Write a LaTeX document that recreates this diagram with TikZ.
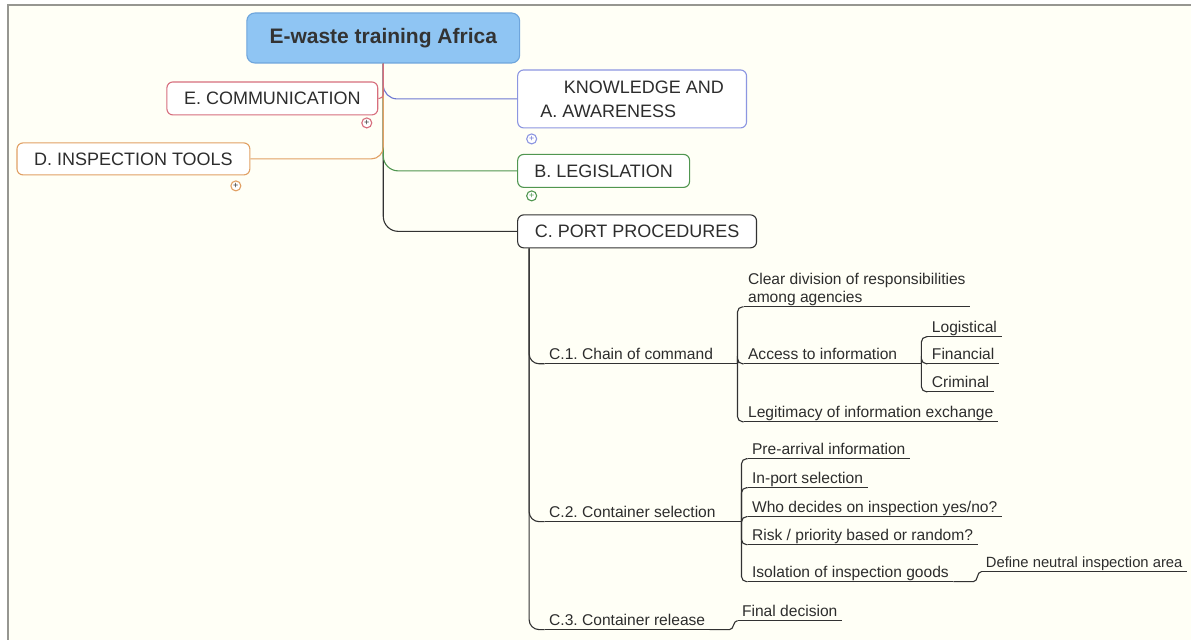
\documentclass[tikz,border=0pt]{standalone}
\usepackage{fontspec}
\setmainfont{Liberation Sans}
\usepackage{tikz}
\usetikzlibrary{positioning, arrows.meta, calc}
\usepackage{xcolor}

\definecolor{bgcream}{RGB}{255,255,246}
\definecolor{framegray}{RGB}{150,150,145}
\definecolor{textgray}{RGB}{45,45,45}
\definecolor{rootblue}{RGB}{143,197,243}
\definecolor{rootedge}{RGB}{110,165,220}
\definecolor{ablue}{RGB}{110,120,210}
\definecolor{alav}{RGB}{140,150,225}
\definecolor{bgreen}{RGB}{80,150,80}
\definecolor{cdark}{RGB}{50,50,50}
\definecolor{dorange}{RGB}{225,160,100}
\definecolor{epink}{RGB}{215,110,125}

\begin{document}
\frenchspacing
\begin{tikzpicture}[
    % one unit = one pixel of the screenshot, y runs downwards
    x=1pt, y=-1pt,
    every path/.style={line width=1.1pt},
    every node/.style={color=textgray},
    % --- styles ---
    root/.style={draw=rootedge, fill=rootblue, rounded corners=8pt,
      minimum width=273pt, minimum height=50pt, inner sep=0pt,
      font=\bfseries\fontsize{21}{24}\selectfont},
    topic/.style={draw, fill=white, rounded corners=6pt, inner sep=0pt,
      minimum height=33pt, align=left, font=\fontsize{18}{24}\selectfont},
    leaf/.style={anchor=south west, inner xsep=4pt, inner ysep=1pt,
      text depth=3pt, align=left, font=\fontsize{15.6}{18}\selectfont},
    link/.style={color=cdark, line width=1.1pt},
    expander/.style={circle, draw, fill=white, minimum size=10pt, inner sep=0pt,
      font=\fontsize{9}{9}\selectfont}
  ]

  % --- page and frame ---
  \fill[white] (0,0) rectangle (1192,640);
  \fill[bgcream] (8,5) rectangle (1192,640);
  \draw[framegray, line width=1.5pt] (8,640) -- (8,5) -- (1192,5);
  \useasboundingbox (0,0) rectangle (1192,640);

  % --- central topic and main branches ---
  \node[root, text=black!80] (root) at (383.5,38) {E-waste training Africa};

  \node[topic, draw=alav, minimum width=229pt, minimum height=58pt] (aware) at (632.5,99)
    {\hspace*{1.3em}KNOWLEDGE AND\\A. AWARENESS};
  \node[topic, draw=bgreen, minimum width=172pt] (legis) at (604,171) {B. LEGISLATION};
  \node[topic, draw=cdark, minimum width=239pt] (port) at (637.5,231.5) {C. PORT PROCEDURES};
  \node[topic, draw=dorange, minimum width=233pt, minimum height=32pt] (insp) at (133.5,159) {D. INSPECTION TOOLS};
  \node[topic, draw=epink, minimum width=211pt] (comm) at (272.5,98.5) {E. COMMUNICATION};

  % collapsed markers
  \node[expander, draw=alav, text=ablue] (xa) at (532,139) {+};
  \node[expander, draw=bgreen, text=bgreen] (xb) at (532,196) {+};
  \node[expander, draw=dorange, text=cdark] (xd) at (236,186) {+};
  \node[expander, draw=epink, text=cdark] (xe) at (367,123) {+};

  \draw[link, rounded corners=15pt] (root.south) |- (port.west);
  \draw[color=bgreen, rounded corners=15pt] (root.south) |- (legis.west);
  \draw[color=dorange, rounded corners=12pt] (root.south) |- (insp.east);
  \draw[color=ablue, rounded corners=14pt] (root.south) |- (aware.west);
  \draw[color=epink, rounded corners=4pt] (root.south) |- (comm.east);

  % --- C. port procedures subtree ---
  \coordinate (ct) at ([xshift=12pt]port.south west);

  \node[leaf] (c1) at (545,364) {C.1. Chain of command};
  \node[leaf] (c2) at (545,522) {C.2. Container selection};
  \node[leaf] (c3) at (545,630) {C.3. Container release};

  \foreach \n in {c1,c2,c3}
    \draw[link, rounded corners=10pt] (ct) |- (\n.south west);

  % junctions
  \coordinate (j1) at (738,364);
  \coordinate (j2) at (922,364);
  \coordinate (j3) at (742,522);
  \coordinate (j4) at (974,582);
  \coordinate (j5) at (730,630);

  \node[leaf] (clear) at (744,307) {Clear division of responsibilities\\among agencies};
  \node[leaf] (access) at (744,364) {Access to information};
  \node[leaf] (legit) at (744,422) {Legitimacy of information exchange};

  \node[leaf] (logis) at (928,337) {Logistical};
  \node[leaf] (finan) at (928,364) {Financial};
  \node[leaf] (crim) at (928,392) {Criminal};

  \node[leaf] (pre) at (748,459) {Pre-arrival information};
  \node[leaf] (inport) at (748,488) {In-port selection};
  \node[leaf] (who) at (748,517) {Who decides on inspection yes/no?};
  \node[leaf] (risk) at (748,545) {Risk / priority based or random?};
  \node[leaf] (isol) at (748,582) {Isolation of inspection goods};
  \node[leaf, font=\fontsize{14.8}{18}\selectfont] (neutral) at (982,572) {Define neutral inspection area};

  \node[leaf] (final) at (738,621) {Final decision};

  % underlines
  \foreach \n in {c1,c2,c3,clear,access,legit,logis,finan,crim,pre,inport,who,risk,isol,neutral,final}
    \draw[link] (\n.south west) -- (\n.south east);

  % branches
  \draw[link] (c1.south east) -- (j1);
  \foreach \n in {clear,access,legit}
    \draw[link, rounded corners=5pt] (j1) |- (\n.south west);
  \draw[link] (access.south east) -- (j2);
  \foreach \n in {logis,finan,crim}
    \draw[link, rounded corners=5pt] (j2) |- (\n.south west);

  \draw[link] (c2.south east) -- (j3);
  \foreach \n in {pre,inport,who,risk,isol}
    \draw[link, rounded corners=5pt] (j3) |- (\n.south west);
  \draw[link] (isol.south east) -- (j4) to[out=0, in=180] (neutral.south west);

  \draw[link] (c3.south east) -- (j5) to[out=0, in=180] (final.south west);

\end{tikzpicture}
\end{document}
